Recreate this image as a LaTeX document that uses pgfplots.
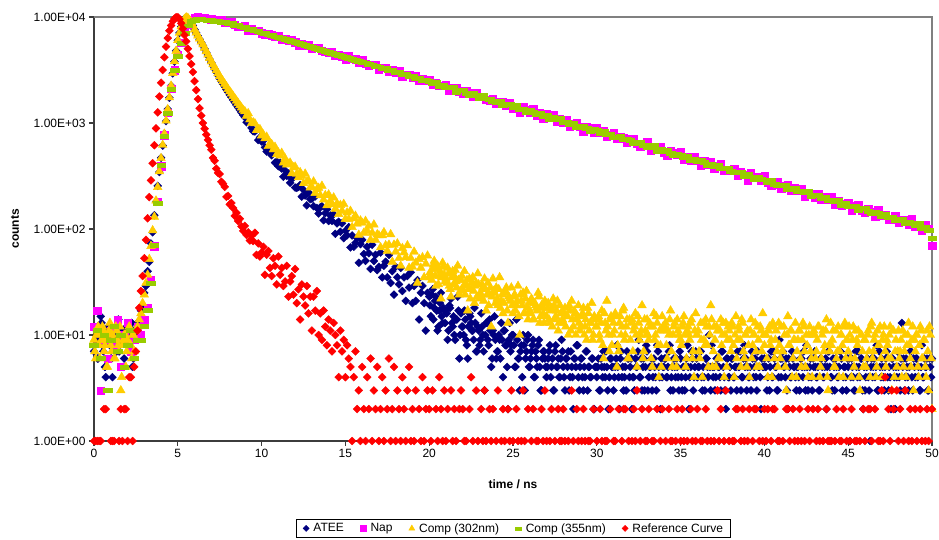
\documentclass[border=0pt]{standalone}
\usepackage{fontspec}
\setmainfont{Liberation Sans}
\usepackage{pgfplots}
\pgfplotsset{compat=1.18}
\definecolor{ateeblue}{RGB}{0,0,128}
\definecolor{napmag}{RGB}{255,0,255}
\definecolor{compgold}{RGB}{255,204,0}
\definecolor{compgreen}{RGB}{153,204,0}
\definecolor{refred}{RGB}{255,0,0}
\definecolor{axisdark}{RGB}{60,60,60}
\definecolor{framegray}{RGB}{128,128,128}
\begin{document}
\begin{tikzpicture}
\useasboundingbox (-94pt,-99pt) rectangle (845pt,441pt);
\begin{axis}[
  at={(0pt,0pt)}, anchor=south west,
  scale only axis, width=838pt, height=424pt,
  ymode=log, xmin=0, xmax=50, ymin=1, ymax=10000,
  clip=false,
  axis x line*=bottom, axis y line*=left,
  axis line style={-, draw=axisdark, line width=1.5pt},
  tick align=outside, major tick length=5pt,
  tick style={draw=axisdark, line width=1.2pt},
  yminorticks=false, xminorticks=false,
  xtick={0,5,...,50}, xticklabels={0,5,10,15,20,25,30,35,40,45,50},
  ytick={1,10,100,1000,10000},
  yticklabels={1.00E+00,1.00E+01,1.00E+02,1.00E+03,1.00E+04},
  ticklabel style={font=\fontsize{12}{14}\selectfont, text=black},
  xlabel={time / ns}, ylabel={counts},
  label style={font=\fontsize{12}{14}\selectfont\bfseries},
  xlabel style={at={(axis description cs:0.5,-0.101)}, anchor=center},
  ylabel style={at={(axis description cs:-0.0943,0.5)}, anchor=center},
  legend columns=5,
  legend style={at={(axis description cs:0.5,-0.184)}, anchor=north,
    draw=black, line width=0.6pt, fill=white,
    font=\fontsize{12}{14}\selectfont, inner xsep=5pt, inner ysep=2pt,
    /tikz/every even column/.append style={column sep=12pt}},
  legend image code/.code={\draw[#1] plot coordinates {(5pt,0pt)}; \path (0pt,0pt) (10pt,0pt);},
]
% plot-area border (top and right)
\draw[framegray, line width=2pt] (axis description cs:0,1) -- (axis description cs:1,1) -- (axis description cs:1,0);

% ATEE
\addplot[only marks, color=ateeblue, mark=square*, mark size=2.8pt, mark options={rotate=45},
  legend image post style={mark size=2.1pt}] coordinates {
(0.0,7) (0.1,9) (0.2,6) (0.3,12) (0.4,15) (0.5,8) (0.6,10) (0.7,4) (0.8,11) (0.9,9)
(1.0,6) (1.1,4) (1.2,10) (1.3,8) (1.4,12) (1.5,7) (1.6,9) (1.7,11) (1.8,6) (1.9,10)
(2.0,8) (2.1,12) (2.2,9) (2.3,5) (2.4,11)
(0.05,8) (0.15,11) (0.25,6) (0.35,9) (0.45,13) (0.55,7) (0.65,5) (0.75,10) (0.85,12) (0.95,8)
(1.05,6) (1.15,9) (1.25,11) (1.35,7) (1.45,14) (1.55,8) (1.65,10) (1.75,5) (1.85,9) (1.95,12)
(2.05,7) (2.15,10) (2.25,13) (2.35,6)
(2.5,10) (2.6,13) (2.7,12) (2.8,17) (2.9,19) (3.0,25) (3.1,29) (3.2,40) (3.3,49) (3.4,73)
(3.5,93) (3.6,135) (3.7,180) (3.8,255) (3.9,344) (4.0,470) (4.1,612) (4.2,798) (4.3,1040) (4.4,1352)
(4.5,1731) (4.6,2250) (4.7,2940) (4.8,3790) (4.9,4800) (5.0,6010) (5.1,7090) (5.2,8110) (5.3,8930) (5.4,9540)
(5.5,9880) (5.6,9760) (5.7,9340) (5.8,8900) (5.9,8320)
(6.0,7590) (6.1,7080) (6.2,6610) (6.3,6170) (6.4,5750) (6.5,5370) (6.6,4990) (6.7,4630) (6.8,4300) (6.9,4000)
(7.0,3715) (7.1,3467) (7.2,3236) (7.3,3020) (7.4,2818) (7.5,2630) (7.6,2477) (7.7,2333) (7.8,2198) (7.9,2070)
(8.0,1950) (8.1,1845) (8.2,1746) (8.3,1652) (8.4,1563) (8.5,1479) (8.6,1400) (8.7,1324) (8.8,1253) (8.9,1186)
(9.0,1135) (9.1,1016) (9.2,1047) (9.3,1025) (9.4,900) (9.5,836) (9.6,832) (9.7,860) (9.8,691) (9.9,732)
(10.0,669) (10.1,679) (10.2,589) (10.3,537) (10.4,579) (10.5,537) (10.6,496) (10.7,522) (10.8,423) (10.9,434)
(11.0,391) (11.1,422) (11.2,372) (11.3,311) (11.4,356) (11.5,317) (11.6,333) (11.7,273) (11.8,297) (11.9,308)
(12.0,246) (12.1,244) (12.2,249) (12.3,260) (12.4,202) (12.5,234) (12.6,207) (12.7,167) (12.8,221) (12.9,191)
(13.0,193) (13.1,164) (13.2,203) (13.3,158) (13.4,140) (13.5,160) (13.6,164) (13.7,121) (13.8,141) (13.9,153)
(14.0,119) (14.1,134) (14.2,119) (14.3,138) (14.4,90) (14.5,113) (14.6,117) (14.7,94) (14.8,113) (14.9,82)
(15.0,96) (15.1,87) (15.2,104) (15.3,67) (15.4,87) (15.5,68) (15.6,74) (15.7,82) (15.8,48) (15.9,72)
(16.0,79) (16.1,58) (16.2,50) (16.3,68) (16.4,59) (16.5,42) (16.6,71) (16.7,50) (16.8,57) (16.9,41)
(17.0,44) (17.1,60) (17.2,35) (17.3,45) (17.4,49) (17.5,35) (17.6,57) (17.7,31) (17.8,40) (17.9,24)
(18.0,44) (18.1,35) (18.2,30) (18.3,43) (18.4,26) (18.5,35) (18.6,21) (18.7,36) (18.8,28) (18.9,39)
(19.0,20) (19.1,29) (19.2,21) (19.3,33) (19.4,14) (19.5,25) (19.6,29) (19.7,20) (19.8,11) (19.9,25)
(20.0,23) (20.1,15) (20.2,27) (20.3,18) (20.4,23) (20.5,11) (20.6,17) (20.7,25) (20.8,13) (20.9,17)
(21.0,17) (21.1,9) (21.2,19) (21.3,22) (21.4,12) (21.5,10) (21.6,14) (21.7,23) (21.8,6) (21.9,16)
(22.0,12) (22.1,17) (22.2,9) (22.3,6) (22.4,16) (22.5,13) (22.6,11) (22.7,18) (22.8,7) (22.9,12)
(23.0,8) (23.1,16) (23.2,10) (23.3,3) (23.4,13) (23.5,9) (23.6,14) (23.7,5) (23.8,11) (23.9,15)
(24.0,6) (24.1,7) (24.2,9) (24.3,13) (24.4,4) (24.5,11) (24.6,8) (24.7,2) (24.8,13) (24.9,8)
(25.0,10) (25.1,5) (25.2,14) (25.3,6) (25.4,3) (25.5,8) (25.6,10) (25.7,3) (25.8,7) (25.9,10)
(26.0,5) (26.1,7) (26.2,9) (26.3,4) (26.4,6) (26.5,8) (26.6,5) (26.7,3) (26.8,7) (26.9,6)
(27.0,4) (27.1,6) (27.2,8) (27.3,5) (27.4,3) (27.5,7) (27.6,5) (27.7,6) (27.8,4) (27.9,9)
(28.0,5) (28.1,3) (28.2,6) (28.3,7) (28.4,4) (28.5,5) (28.6,2) (28.7,6) (28.8,8) (28.9,4)
(29.0,5) (29.1,6) (29.2,3) (29.3,4) (29.4,7) (29.5,5) (29.6,4) (29.7,6) (29.8,2) (29.9,5)
(30.0,4) (30.1,6) (30.2,3) (30.3,5) (30.4,7) (30.5,4) (30.6,5) (30.7,2) (30.8,6) (30.9,5)
(31.0,3) (31.1,5) (31.2,8) (31.3,4) (31.4,6) (31.5,4) (31.6,3) (31.7,5) (31.8,7) (31.9,6)
(32.0,5) (32.1,2) (32.2,4) (32.3,6) (32.4,5) (32.5,9) (32.6,4) (32.7,3) (32.8,6) (32.9,5)
(33.0,7) (33.1,4) (33.2,5) (33.3,3) (33.4,6) (33.5,4) (33.6,8) (33.7,5) (33.8,2) (33.9,4)
(34.0,5) (34.1,6) (34.2,4) (34.3,7) (34.4,3) (34.5,5) (34.6,6) (34.7,4) (34.8,5) (34.9,3)
(35.0,6) (35.1,3) (35.2,5) (35.3,4) (35.4,8) (35.5,2) (35.6,5) (35.7,6) (35.8,4) (35.9,7)
(36.0,4) (36.1,5) (36.2,7) (36.3,3) (36.4,4) (36.5,6) (36.6,5) (36.7,10) (36.8,3) (36.9,5)
(37.0,5) (37.1,4) (37.2,6) (37.3,5) (37.4,3) (37.5,7) (37.6,4) (37.7,2) (37.8,6) (37.9,4)
(38.0,3) (38.1,6) (38.2,4) (38.3,5) (38.4,7) (38.5,5) (38.6,3) (38.7,4) (38.8,8) (38.9,6)
(39.0,5) (39.1,4) (39.2,3) (39.3,6) (39.4,5) (39.5,4) (39.6,7) (39.7,5) (39.8,2) (39.9,5)
(40.0,6) (40.1,5) (40.2,4) (40.3,3) (40.4,7) (40.5,4) (40.6,6) (40.7,5) (40.8,3) (40.9,9)
(41.0,4) (41.1,7) (41.2,5) (41.3,6) (41.4,2) (41.5,5) (41.6,4) (41.7,6) (41.8,5) (41.9,3)
(42.0,5) (42.1,3) (42.2,6) (42.3,4) (42.4,5) (42.5,8) (42.6,3) (42.7,5) (42.8,4) (42.9,6)
(43.0,7) (43.1,4) (43.2,5) (43.3,3) (43.4,6) (43.5,4) (43.6,5) (43.7,2) (43.8,7) (43.9,5)
(44.0,4) (44.1,6) (44.2,3) (44.3,5) (44.4,4) (44.5,7) (44.6,6) (44.7,4) (44.8,5) (44.9,3)
(45.0,5) (45.1,1) (45.2,6) (45.3,4) (45.4,3) (45.5,5) (45.6,7) (45.7,4) (45.8,6) (45.9,2)
(46.0,3) (46.1,5) (46.2,4) (46.3,1) (46.4,6) (46.5,5) (46.6,4) (46.7,8) (46.8,3) (46.9,5)
(47.0,6) (47.1,4) (47.2,5) (47.3,7) (47.4,3) (47.5,4) (47.6,6) (47.7,5) (47.8,2) (47.9,4)
(48.0,5) (48.1,3) (48.2,13) (48.3,6) (48.4,4) (48.5,5) (48.6,3) (48.7,7) (48.8,4) (48.9,6)
(49.0,4) (49.1,6) (49.2,5) (49.3,3) (49.4,8) (49.5,4) (49.6,5) (49.7,6) (49.8,3) (49.9,5)
(50.0,6)
(20.05,19) (20.15,24) (20.25,14) (20.35,21) (20.45,17) (20.55,12) (20.65,20) (20.75,15) (20.85,18) (20.95,13)
(21.05,16) (21.15,11) (21.25,18) (21.35,13) (21.45,15) (21.55,9) (21.65,14) (21.75,17) (21.85,10) (21.95,12)
(22.05,10) (22.15,14) (22.25,8) (22.35,12) (22.45,15) (22.55,11) (22.65,9) (22.75,13) (22.85,7) (22.95,11)
(23.05,9) (23.15,12) (23.25,7) (23.35,10) (23.45,13) (23.55,8) (23.65,11) (23.75,6) (23.85,10) (23.95,9)
(24.05,7) (24.15,10) (24.25,6) (24.35,9) (24.45,11) (24.55,8) (24.65,5) (24.75,9) (24.85,7) (24.95,10)
(25.05,8) (25.15,5) (25.25,9) (25.35,6) (25.45,7) (25.55,4) (25.65,8) (25.75,6) (25.85,9) (25.95,5)
(26.05,6) (26.15,8) (26.25,4) (26.35,7) (26.45,5) (26.55,9) (26.65,3) (26.75,6) (26.85,7) (26.95,5)
(27.05,5) (27.15,7) (27.25,4) (27.35,6) (27.45,3) (27.55,8) (27.65,5) (27.75,4) (27.85,6) (27.95,7)
(28.05,4) (28.15,6) (28.25,5) (28.35,3) (28.45,7) (28.55,4) (28.65,6) (28.75,5) (28.85,8) (28.95,3)
(29.05,6) (29.15,4) (29.25,5) (29.35,7) (29.45,3) (29.55,5) (29.65,4) (29.75,6) (29.85,2) (29.95,5)
(30.05,5) (30.15,3) (30.25,6) (30.35,4) (30.45,5) (30.55,7) (30.65,3) (30.75,4) (30.85,6) (30.95,5)
(31.05,4) (31.15,6) (31.25,5) (31.35,2) (31.45,7) (31.55,5) (31.65,4) (31.75,3) (31.85,6) (31.95,4)
(32.05,6) (32.15,4) (32.25,3) (32.35,5) (32.45,7) (32.55,4) (32.65,6) (32.75,5) (32.85,3) (32.95,8)
(33.05,3) (33.15,5) (33.25,6) (33.35,4) (33.45,5) (33.55,3) (33.65,7) (33.75,4) (33.85,6) (33.95,5)
(34.05,6) (34.15,4) (34.25,5) (34.35,8) (34.45,4) (34.55,3) (34.65,5) (34.75,6) (34.85,4) (34.95,7)
(35.05,4) (35.15,5) (35.25,3) (35.35,6) (35.45,5) (35.55,4) (35.65,7) (35.75,3) (35.85,5) (35.95,6)
(36.05,5) (36.15,7) (36.25,4) (36.35,5) (36.45,3) (36.55,6) (36.65,4) (36.75,5) (36.85,8) (36.95,4)
(37.05,3) (37.15,6) (37.25,5) (37.35,4) (37.45,7) (37.55,5) (37.65,3) (37.75,6) (37.85,4) (37.95,5)
(38.05,6) (38.15,4) (38.25,5) (38.35,3) (38.45,5) (38.55,7) (38.65,4) (38.75,6) (38.85,5) (38.95,3)
(39.05,4) (39.15,5) (39.25,7) (39.35,4) (39.45,6) (39.55,3) (39.65,5) (39.75,4) (39.85,6) (39.95,5)
(40.05,5) (40.15,3) (40.25,6) (40.35,5) (40.45,4) (40.55,7) (40.65,5) (40.75,3) (40.85,4) (40.95,6)
(41.05,6) (41.15,5) (41.25,4) (41.35,3) (41.45,6) (41.55,4) (41.65,7) (41.75,5) (41.85,4) (41.95,5)
(42.05,4) (42.15,6) (42.25,5) (42.35,7) (42.45,3) (42.55,5) (42.65,4) (42.75,6) (42.85,3) (42.95,5)
(43.05,5) (43.15,4) (43.25,3) (43.35,6) (43.45,5) (43.55,4) (43.65,6) (43.75,5) (43.85,7) (43.95,4)
(44.05,3) (44.15,5) (44.25,6) (44.35,4) (44.45,5) (44.55,7) (44.65,3) (44.75,5) (44.85,4) (44.95,6)
(45.05,6) (45.15,4) (45.25,5) (45.35,3) (45.45,7) (45.55,4) (45.65,5) (45.75,6) (45.85,3) (45.95,5)
(46.05,4) (46.15,6) (46.25,3) (46.35,5) (46.45,4) (46.55,6) (46.65,5) (46.75,3) (46.85,7) (46.95,4)
(47.05,5) (47.15,3) (47.25,6) (47.35,4) (47.45,5) (47.55,2) (47.65,6) (47.75,4) (47.85,5) (47.95,7)
(48.05,4) (48.15,6) (48.25,5) (48.35,3) (48.45,6) (48.55,4) (48.65,5) (48.75,7) (48.85,3) (48.95,5)
(49.05,6) (49.15,4) (49.25,3) (49.35,5) (49.45,4) (49.55,6) (49.65,5) (49.75,3) (49.85,6) (49.95,4)
};
\addlegendentry{ATEE}

% Nap
\addplot[only marks, color=napmag, mark=square*, mark size=3.7pt,
  legend image post style={mark size=2.7pt}] coordinates {
(0.0,12) (0.2,17) (0.4,3) (0.6,9) (0.8,6) (1.0,11) (1.2,8) (1.4,14) (1.6,5) (1.8,10) (2.0,13) (2.2,7) (2.4,9) (2.6,12)
(2.8,10) (3.0,14) (3.2,18) (3.4,33) (3.6,69) (3.8,181) (4.0,392) (4.2,768) (4.4,1250) (4.6,2100)
(4.8,3150) (5.0,4380) (5.2,5730) (5.4,7270) (5.6,8480) (5.8,9360) (6.0,9750) (6.2,9980) (6.4,9860) (6.6,9790)
(6.8,9640) (7.0,9570) (7.2,9440) (7.4,9400) (7.6,9290) (7.8,8819) (8.0,8992) (8.2,8920) (8.4,8407) (8.6,8146)
(8.8,8136) (9.0,8268) (9.2,7531) (9.4,7711) (9.6,7420) (9.8,7455)
(10.0,7040) (10.2,6793) (10.4,6964) (10.6,6750) (10.8,6541) (11.0,6633) (11.2,6153) (11.4,6171) (11.6,5944) (11.8,6041)
(12.0,5764) (12.2,5439) (12.4,5599) (12.6,5373) (12.8,5397) (13.0,5065) (13.2,5120) (13.4,5121) (13.6,4779) (13.8,4706)
(14.0,4672) (14.2,4664) (14.4,4342) (14.6,4434) (14.8,4254) (15.0,3930) (15.2,4264) (15.4,4018) (15.6,3992) (15.8,3757)
(16.0,3971) (16.2,3633) (16.4,3469) (16.6,3555) (16.8,3541) (17.0,3223) (17.2,3304) (17.4,3341) (17.6,3080) (17.8,3144)
(18.0,3006) (18.2,3093) (18.4,2757) (18.6,2861) (18.8,2851) (19.0,2676) (19.2,2763) (19.4,2533) (19.6,2586) (19.8,2493)
(20.0,2566) (20.2,2303) (20.4,2395) (20.6,2241) (20.8,2247) (21.0,2266) (21.2,2030) (21.4,2140) (21.6,2143) (21.8,1989)
(22.0,1912) (22.2,1987) (22.4,1905) (22.6,1776) (22.8,1912) (23.0,1765) (23.2,1769) (23.4,1655) (23.6,1645) (23.8,1703)
(24.0,1539) (24.2,1567) (24.4,1566) (24.6,1465) (24.8,1557) (25.0,1362) (25.2,1424) (25.4,1263) (25.6,1418) (25.8,1316)
(26.0,1256) (26.2,1349) (26.4,1185) (26.6,1244) (26.8,1105) (27.0,1209) (27.2,1127) (27.4,1203) (27.6,1025) (27.8,1083)
(28.0,1009) (28.2,1079) (28.4,921) (28.6,985) (28.8,1002) (29.0,920) (29.2,832) (29.4,926) (29.6,898) (29.8,818)
(30.0,894) (30.2,813) (30.4,836) (30.6,740) (30.8,770) (31.0,814) (31.2,712) (31.4,733) (31.6,718) (31.8,650)
(32.0,704) (32.2,713) (32.4,636) (32.6,594) (32.8,625) (33.0,669) (33.2,547) (33.4,600) (33.6,564) (33.8,589)
(34.0,528) (34.2,498) (34.4,548) (34.6,523) (34.8,500) (35.0,533) (35.2,457) (35.4,476) (35.6,447) (35.8,480)
(36.0,442) (36.2,393) (36.4,438) (36.6,408) (36.8,425) (37.0,375) (37.2,398) (37.4,410) (37.6,357) (37.8,355)
(38.0,360) (38.2,370) (38.4,319) (38.6,347) (38.8,324) (39.0,288) (39.2,335) (39.4,309) (39.6,309) (39.8,284)
(40.0,315) (40.2,276) (40.4,259) (40.6,264) (40.8,276) (41.0,239) (41.2,253) (41.4,262) (41.6,231) (41.8,243)
(42.0,229) (42.2,238) (42.4,203) (42.6,220) (42.8,216) (43.0,198) (43.2,216) (43.4,190) (43.6,199) (43.8,190)
(44.0,202) (44.2,171) (44.4,185) (44.6,168) (44.8,172) (45.0,176) (45.2,149) (45.4,165) (45.6,168) (45.8,150)
(46.0,143) (46.2,155) (46.4,146) (46.6,132) (46.8,152) (47.0,135) (47.2,137) (47.4,124) (47.6,124) (47.8,134)
(48.0,115) (48.2,121) (48.4,122) (48.6,111) (48.8,124) (49.0,105) (49.2,110) (49.4,97) (49.6,109) (49.8,101) (50.0,70)
};
\addlegendentry{Nap}

% Comp (302nm)
\addplot[only marks, color=compgold, mark=triangle*, mark size=5pt,
  legend image post style={mark size=3.3pt}] coordinates {
(0.0,9) (0.1,6) (0.2,11) (0.3,8) (0.4,10) (0.5,12) (0.6,7) (0.7,9) (0.8,5) (0.9,11)
(1.0,8) (1.1,10) (1.2,6) (1.3,12) (1.4,9) (1.5,7) (1.6,3) (1.7,8) (1.8,10) (1.9,5)
(2.0,9) (2.1,12) (2.2,8) (2.3,10) (2.4,7)
(0.05,7) (0.15,10) (0.25,12) (0.35,6) (0.45,9) (0.55,11) (0.65,8) (0.75,5) (0.85,10) (0.95,13)
(1.05,7) (1.15,9) (1.25,6) (1.35,11) (1.45,8) (1.55,12) (1.65,4) (1.75,9) (1.85,10) (1.95,7)
(2.05,11) (2.15,8) (2.25,6) (2.35,10)
(2.5,11) (2.6,12) (2.7,14) (2.8,16) (2.9,20) (3.0,24) (3.1,31) (3.2,37) (3.3,52) (3.4,69)
(3.5,97) (3.6,130) (3.7,185) (3.8,248) (3.9,350) (4.0,465) (4.1,620) (4.2,790) (4.3,1050) (4.4,1345)
(4.5,1740) (4.6,2245) (4.7,2955) (4.8,3810) (4.9,4790) (5.0,6030) (5.1,7070) (5.2,8130) (5.3,8920) (5.4,9560)
(5.5,9900) (5.6,9780) (5.7,9350) (5.8,8920) (5.9,8330)
(6.0,7590) (6.1,7110) (6.2,6670) (6.3,6250) (6.4,5860) (6.5,5500) (6.6,5105) (6.7,4745) (6.8,4405) (6.9,4090)
(7.0,3800) (7.1,3565) (7.2,3340) (7.3,3135) (7.4,2940) (7.5,2755) (7.6,2605) (7.7,2465) (7.8,2335) (7.9,2210)
(8.0,2090) (8.1,1985) (8.2,1890) (8.3,1795) (8.4,1705) (8.5,1620) (8.6,1540) (8.7,1465) (8.8,1395) (8.9,1325)
(9.0,1288) (9.1,1168) (9.2,1234) (9.3,1078) (9.4,995) (9.5,1012) (9.6,991) (9.7,854) (9.8,871) (9.9,873)
(10.0,761) (10.1,777) (10.2,714) (10.3,740) (10.4,604) (10.5,638) (10.6,631) (10.7,562) (10.8,594) (10.9,505)
(11.0,525) (11.1,491) (11.2,521) (11.3,423) (11.4,462) (11.5,405) (11.6,411) (11.7,422) (11.8,334) (11.9,380)
(12.0,387) (12.1,332) (12.2,307) (12.3,343) (12.4,317) (12.5,270) (12.6,332) (12.7,279) (12.8,287) (12.9,246)
(13.0,249) (13.1,280) (13.2,218) (13.3,237) (13.4,244) (13.5,207) (13.6,255) (13.7,189) (13.8,208) (13.9,167)
(14.0,211) (14.1,185) (14.2,171) (14.3,198) (14.4,155) (14.5,174) (14.6,138) (14.7,168) (14.8,148) (14.9,172)
(15.0,124) (15.1,143) (15.2,124) (15.3,148) (15.4,104) (15.5,126) (15.6,133) (15.7,112) (15.8,88) (15.9,120)
(16.0,114) (16.1,92) (16.2,119) (16.3,96) (16.4,107) (16.5,79) (16.6,92) (16.7,110) (16.8,79) (16.9,89)
(17.0,87) (17.1,67) (17.2,87) (17.3,93) (17.4,70) (17.5,62) (17.6,71) (17.7,89) (17.8,49) (17.9,71)
(18.0,61) (18.1,73) (18.2,53) (18.3,45) (18.4,66) (18.5,60) (18.6,54) (18.7,70) (18.8,43) (18.9,53)
(19.0,44) (19.1,61) (19.2,48) (19.3,31) (19.4,52) (19.5,43) (19.6,54) (19.7,35) (19.8,47) (19.9,56)
(20.0,35) (20.1,37) (20.2,42) (20.3,50) (20.4,29) (20.5,45) (20.6,36) (20.7,22) (20.8,48) (20.9,37)
(21.0,34) (21.1,43) (21.2,29) (21.3,23) (21.4,40) (21.5,36) (21.6,32) (21.7,45) (21.8,24) (21.9,33)
(22.0,27) (22.1,40) (22.2,30) (22.3,17) (22.4,34) (22.5,27) (22.6,35) (22.7,20) (22.8,31) (22.9,38)
(23.0,22) (23.1,23) (23.2,28) (23.3,34) (23.4,17) (23.5,31) (23.6,24) (23.7,12) (23.8,34) (23.9,25)
(24.0,28) (24.1,19) (24.2,35) (24.3,21) (24.4,16) (24.5,25) (24.6,28) (24.7,13) (24.8,22) (24.9,28)
(25.0,16) (25.1,24) (25.2,19) (25.3,29) (25.4,10) (25.5,21) (25.6,25) (25.7,16) (25.8,26) (25.9,14)
(26.0,17) (26.1,22) (26.2,14) (26.3,20) (26.4,18) (26.5,25) (26.6,13) (26.7,19) (26.8,16) (26.9,21)
(27.0,15) (27.1,20) (27.2,13) (27.3,18) (27.4,22) (27.5,14) (27.6,17) (27.7,11) (27.8,19) (27.9,16)
(28.0,13) (28.1,18) (28.2,15) (28.3,10) (28.4,17) (28.5,21) (28.6,12) (28.7,16) (28.8,14) (28.9,19)
(29.0,11) (29.1,15) (29.2,18) (29.3,12) (29.4,9) (29.5,16) (29.6,13) (29.7,20) (29.8,10) (29.9,14)
(30.0,12) (30.1,15) (30.2,9) (30.3,17) (30.4,6) (30.5,13) (30.6,21) (30.7,10) (30.8,14) (30.9,8)
(31.0,13) (31.1,16) (31.2,5) (31.3,7) (31.4,15) (31.5,12) (31.6,18) (31.7,10) (31.8,14) (31.9,6)
(32.0,9) (32.1,14) (32.2,11) (32.3,16) (32.4,5) (32.5,13) (32.6,10) (32.7,19) (32.8,7) (32.9,11)
(33.0,14) (33.1,9) (33.2,12) (33.3,5) (33.4,16) (33.5,10) (33.6,13) (33.7,4) (33.8,8) (33.9,15)
(34.0,11) (34.1,13) (34.2,6) (34.3,10) (34.4,17) (34.5,5) (34.6,12) (34.7,6) (34.8,14) (34.9,10)
(35.0,9) (35.1,12) (35.2,15) (35.3,5) (35.4,11) (35.5,10) (35.6,13) (35.7,6) (35.8,4) (35.9,16)
(36.0,10) (36.1,7) (36.2,13) (36.3,4) (36.4,9) (36.5,14) (36.6,8) (36.7,12) (36.8,19) (36.9,5)
(37.0,12) (37.1,5) (37.2,11) (37.3,6) (37.4,14) (37.5,10) (37.6,4) (37.7,13) (37.8,9) (37.9,11)
(38.0,7) (38.1,12) (38.2,4) (38.3,15) (38.4,9) (38.5,11) (38.6,5) (38.7,13) (38.8,6) (38.9,10)
(39.0,11) (39.1,4) (39.2,14) (39.3,8) (39.4,10) (39.5,7) (39.6,12) (39.7,5) (39.8,11) (39.9,16)
(40.0,8) (40.1,10) (40.2,4) (40.3,12) (40.4,9) (40.5,13) (40.6,6) (40.7,11) (40.8,5) (40.9,8)
(41.0,12) (41.1,7) (41.2,10) (41.3,3) (41.4,15) (41.5,8) (41.6,11) (41.7,6) (41.8,9) (41.9,4)
(42.0,9) (42.1,11) (42.2,5) (42.3,13) (42.4,7) (42.5,10) (42.6,4) (42.7,12) (42.8,6) (42.9,10)
(43.0,10) (43.1,7) (43.2,12) (43.3,4) (43.4,6) (43.5,11) (43.6,8) (43.7,14) (43.8,3) (43.9,7)
(44.0,8) (44.1,11) (44.2,5) (44.3,6) (44.4,12) (44.5,7) (44.6,10) (44.7,4) (44.8,13) (44.9,9)
(45.0,7) (45.1,10) (45.2,4) (45.3,12) (45.4,6) (45.5,9) (45.6,11) (45.7,3) (45.8,10) (45.9,5)
(46.0,9) (46.1,6) (46.2,11) (46.3,4) (46.4,13) (46.5,7) (46.6,10) (46.7,5) (46.8,8) (46.9,12)
(47.0,4) (47.1,10) (47.2,7) (47.3,9) (47.4,6) (47.5,12) (47.6,3) (47.7,11) (47.8,7) (47.9,5)
(48.0,11) (48.1,7) (48.2,4) (48.3,5) (48.4,10) (48.5,8) (48.6,13) (48.7,6) (48.8,9) (48.9,3)
(49.0,7) (49.1,10) (49.2,4) (49.3,12) (49.4,6) (49.5,9) (49.6,5) (49.7,11) (49.8,3) (49.9,10)
(50.0,2)
(20.05,39) (20.15,33) (20.25,46) (20.35,36) (20.45,42) (20.55,30) (20.65,40) (20.75,35) (20.85,44) (20.95,32)
(21.05,31) (21.15,38) (21.25,27) (21.35,35) (21.45,30) (21.55,41) (21.65,28) (21.75,33) (21.85,26) (21.95,36)
(22.05,29) (22.15,24) (22.25,33) (22.35,27) (22.45,22) (22.55,31) (22.65,26) (22.75,29) (22.85,23) (22.95,30)
(23.05,25) (23.15,30) (23.25,21) (23.35,27) (23.45,24) (23.55,19) (23.65,28) (23.75,23) (23.85,26) (23.95,20)
(24.05,22) (24.15,27) (24.25,18) (24.35,24) (24.45,20) (24.55,26) (24.65,17) (24.75,23) (24.85,21) (24.95,19)
(25.05,23) (25.15,17) (25.25,21) (25.35,15) (25.45,24) (25.55,19) (25.65,16) (25.75,22) (25.85,18) (25.95,20)
(26.05,16) (26.15,21) (26.25,14) (26.35,19) (26.45,17) (26.55,23) (26.65,15) (26.75,18) (26.85,13) (26.95,20)
(27.05,18) (27.15,14) (27.25,17) (27.35,12) (27.45,19) (27.55,15) (27.65,21) (27.75,13) (27.85,16) (27.95,14)
(28.05,16) (28.15,12) (28.25,15) (28.35,19) (28.45,11) (28.55,14) (28.65,17) (28.75,10) (28.85,15) (28.95,13)
(29.05,12) (29.15,16) (29.25,10) (29.35,14) (29.45,18) (29.55,11) (29.65,13) (29.75,9) (29.85,15) (29.95,12)
(30.05,14) (30.15,10) (30.25,13) (30.35,8) (30.45,16) (30.55,11) (30.65,12) (30.75,7) (30.85,15) (30.95,10)
(31.05,11) (31.15,15) (31.25,8) (31.35,13) (31.45,10) (31.55,17) (31.65,9) (31.75,12) (31.85,6) (31.95,14)
(32.05,13) (32.15,7) (32.25,12) (32.35,10) (32.45,15) (32.55,9) (32.65,11) (32.75,6) (32.85,14) (32.95,10)
(33.05,10) (33.15,13) (33.25,6) (33.35,12) (33.45,9) (33.55,15) (33.65,8) (33.75,11) (33.85,5) (33.95,12)
(34.05,12) (34.15,8) (34.25,11) (34.35,14) (34.45,7) (34.55,10) (34.65,13) (34.75,5) (34.85,11) (34.95,9)
(35.05,8) (35.15,13) (35.25,10) (35.35,6) (35.45,12) (35.55,9) (35.65,14) (35.75,7) (35.85,11) (35.95,10)
(36.05,11) (36.15,6) (36.25,9) (36.35,13) (36.45,8) (36.55,12) (36.65,5) (36.75,10) (36.85,14) (36.95,7)
(37.05,9) (37.15,12) (37.25,6) (37.35,11) (37.45,8) (37.55,13) (37.65,10) (37.75,5) (37.85,12) (37.95,9)
(38.05,13) (38.15,8) (38.25,10) (38.35,6) (38.45,12) (38.55,9) (38.65,14) (38.75,7) (38.85,10) (38.95,5)
(39.05,8) (39.15,11) (39.25,6) (39.35,10) (39.45,13) (39.55,5) (39.65,9) (39.75,12) (39.85,7) (39.95,10)
(40.05,10) (40.15,6) (40.25,11) (40.35,8) (40.45,4) (40.55,12) (40.65,9) (40.75,7) (40.85,13) (40.95,6)
(41.05,7) (41.15,12) (41.25,5) (41.35,10) (41.45,8) (41.55,11) (41.65,4) (41.75,9) (41.85,13) (41.95,7)
(42.05,11) (42.15,6) (42.25,9) (42.35,12) (42.45,5) (42.55,8) (42.65,10) (42.75,7) (42.85,4) (42.95,11)
(43.05,6) (43.15,9) (43.25,12) (43.35,5) (43.45,10) (43.55,7) (43.65,11) (43.75,4) (43.85,8) (43.95,13)
(44.05,9) (44.15,5) (44.25,11) (44.35,7) (44.45,4) (44.55,10) (44.65,8) (44.75,12) (44.85,6) (44.95,9)
(45.05,12) (45.15,6) (45.25,9) (45.35,5) (45.45,11) (45.55,8) (45.65,4) (45.75,10) (45.85,7) (45.95,9)
(46.05,5) (46.15,10) (46.25,7) (46.35,12) (46.45,6) (46.55,9) (46.65,4) (46.75,11) (46.85,8) (46.95,6)
(47.05,9) (47.15,12) (47.25,5) (47.35,8) (47.45,10) (47.55,6) (47.65,11) (47.75,4) (47.85,9) (47.95,7)
(48.05,6) (48.15,9) (48.25,11) (48.35,7) (48.45,4) (48.55,10) (48.65,8) (48.75,5) (48.85,12) (48.95,9)
(49.05,10) (49.15,5) (49.25,8) (49.35,11) (49.45,6) (49.55,9) (49.65,4) (49.75,7) (49.85,12) (49.95,6)
};
\addlegendentry{Comp (302nm)}

% Comp (355nm)
\addplot[only marks, color=compgreen, mark=square*, mark size=4.3pt, mark options={yscale=0.45},
  legend image post style={mark size=3.1pt}] coordinates {
(0.0,8) (0.2,11) (0.4,6) (0.6,10) (0.8,3) (1.0,9) (1.2,12) (1.4,7) (1.6,10) (1.8,5) (2.0,8) (2.2,11) (2.4,6) (2.6,9)
(2.8,9) (3.0,12) (3.2,17) (3.4,31) (3.6,70) (3.8,176) (4.0,400) (4.2,750) (4.4,1240) (4.6,2070)
(4.8,3120) (5.0,4300) (5.2,5640) (5.4,7080) (5.6,8280) (5.8,9050) (6.0,9380) (6.2,9480) (6.4,9460) (6.6,9420)
(6.8,9350) (7.0,9280) (7.2,9200) (7.4,9110) (7.6,8950) (7.8,8860)
(8.0,8790) (8.2,8700) (8.4,8440) (8.6,8330) (8.8,8090) (9.0,7990) (9.2,7740) (9.4,7660) (9.6,7420) (9.8,7330)
(10.0,7110) (10.2,7020) (10.4,6810) (10.6,6730) (10.8,6520) (11.0,6450) (11.2,6250) (11.4,6170) (11.6,5990) (11.8,5920)
(12.0,5740) (12.2,5670) (12.4,5500) (12.6,5430) (12.8,5270) (13.0,5200) (13.2,5040) (13.4,4990) (13.6,4830) (13.8,4780)
(14.0,4630) (14.2,4580) (14.4,4430) (14.6,4390) (14.8,4240) (15.0,4210) (15.2,4070) (15.4,4030) (15.6,3900) (15.8,3860)
(16.0,3740) (16.2,3700) (16.4,3580) (16.6,3550) (16.8,3430) (17.0,3400) (17.2,3280) (17.4,3260) (17.6,3150) (17.8,3120)
(18.0,3010) (18.2,2990) (18.4,2880) (18.6,2870) (18.8,2760) (19.0,2750) (19.2,2640) (19.4,2640) (19.6,2530) (19.8,2530)
(20.0,2472) (20.2,2390) (20.4,2440) (20.6,2221) (20.8,2286) (21.0,2156) (21.2,2153) (21.4,2161) (21.6,1965) (21.8,2044)
(22.0,2041) (22.2,1911) (22.4,1842) (22.6,1896) (22.8,1823) (23.0,1714) (23.2,1816) (23.4,1693) (23.6,1690) (23.8,1593)
(24.0,1580) (24.2,1621) (24.4,1483) (24.6,1500) (24.8,1494) (25.0,1409) (25.2,1477) (25.4,1339) (25.6,1354) (25.8,1263)
(26.0,1323) (26.2,1261) (26.4,1219) (26.6,1250) (26.8,1158) (27.0,1174) (27.2,1096) (27.4,1134) (27.6,1082) (27.8,1107)
(28.0,1011) (28.2,1028) (28.4,981) (28.6,1004) (28.8,918) (29.0,939) (29.2,937) (29.4,888) (29.6,837) (29.8,872)
(30.0,849) (30.2,803) (30.4,830) (30.6,783) (30.8,785) (31.0,731) (31.2,738) (31.4,751) (31.6,695) (31.8,697)
(32.0,682) (32.2,643) (32.4,662) (32.6,659) (32.8,616) (33.0,594) (33.2,596) (33.4,612) (33.6,547) (33.8,566)
(34.0,544) (34.2,550) (34.4,515) (34.6,495) (34.8,513) (35.0,496) (35.2,480) (35.4,491) (35.6,449) (35.8,453)
(36.0,435) (36.2,446) (36.4,423) (36.6,395) (36.8,412) (37.0,394) (37.2,398) (37.4,370) (37.6,377) (37.8,379)
(38.0,349) (38.2,345) (38.4,343) (38.6,344) (38.8,316) (39.0,326) (39.2,311) (39.4,292) (39.6,311) (39.8,295)
(40.0,292) (40.2,277) (40.4,289) (40.6,267) (40.8,256) (41.0,260) (41.2,259) (41.4,239) (41.6,242) (41.8,244)
(42.0,227) (42.2,230) (42.4,220) (42.6,226) (42.8,204) (43.0,209) (43.2,208) (43.4,197) (43.6,201) (43.8,186)
(44.0,189) (44.2,183) (44.4,186) (44.6,169) (44.8,175) (45.0,165) (45.2,165) (45.4,165) (45.6,150) (45.8,156)
(46.0,156) (46.2,146) (46.4,141) (46.6,145) (46.8,140) (47.0,131) (47.2,139) (47.4,129) (47.6,129) (47.8,122)
(48.0,121) (48.2,124) (48.4,113) (48.6,115) (48.8,114) (49.0,108) (49.2,114) (49.4,102) (49.6,104) (49.8,97) (50.0,82)
};
\addlegendentry{Comp (355nm)}

% Reference Curve (channels with zero counts are not listed)
\addplot[only marks, color=refred, mark=square*, mark size=2.8pt, mark options={rotate=45},
  legend image post style={mark size=2.1pt}] coordinates {
(0.0,1) (0.1,1) (0.2,1) (0.3,1) (0.4,1) (0.6,2) (0.7,2) (1.0,1) (1.1,1) (1.2,1)
(1.5,1) (1.6,2) (1.7,1) (1.8,2) (1.9,2) (2.0,1) (2.1,4) (2.2,4) (2.3,1)
(2.4,5) (2.5,7) (2.6,11) (2.7,18) (2.8,26) (2.9,36) (3.0,53) (3.1,79) (3.2,126) (3.3,200)
(3.4,288) (3.5,417) (3.6,617) (3.7,891) (3.8,1259) (3.9,1778) (4.0,2399) (4.1,3162) (4.2,4169) (4.3,5248)
(4.4,6310) (4.5,7413) (4.6,8318) (4.7,9120) (4.8,9660) (4.9,9930) (5.0,9950) (5.1,9550) (5.2,8710) (5.3,7760)
(5.4,6760) (5.5,5890) (5.6,5010) (5.7,4270) (5.8,3590) (5.9,3020) (6.0,2480) (6.1,2040) (6.2,1680) (6.3,1380)
(6.4,1175) (6.5,1000) (6.6,881) (6.7,776) (6.8,692) (6.9,617)
(7.0,560) (7.1,468) (7.2,441) (7.3,371) (7.4,339) (7.5,330) (7.6,279) (7.7,268) (7.8,250) (7.9,201)
(8.0,205) (8.1,171) (8.2,176) (8.3,158) (8.4,133) (8.5,142) (8.6,119) (8.7,125) (8.8,106) (8.9,96)
(9.0,107) (9.1,88) (9.2,93) (9.3,78) (9.4,86) (9.5,77) (9.6,92) (9.7,57) (9.8,73) (9.9,55)
(10.0,60) (10.1,68) (10.2,37) (10.3,57) (10.4,62) (10.5,43) (10.6,36) (10.7,53) (10.8,45) (10.9,30)
(11.0,55) (11.1,37) (11.2,43) (11.3,29) (11.4,32) (11.5,45) (11.6,23) (11.7,32) (11.8,36) (11.9,24)
(12.0,42) (12.1,20) (12.2,27) (12.3,14) (12.4,30) (12.5,23) (12.6,19) (12.7,29) (12.8,16) (12.9,23)
(13.0,11) (13.1,23) (13.2,17) (13.3,26) (13.4,10)
(13.5,16) (13.6,9) (13.7,17) (13.8,12) (13.9,8) (14.0,14) (14.1,11) (14.2,7) (14.3,13) (14.4,10)
(14.5,8) (14.6,4) (14.7,11) (14.8,7) (14.9,9) (15.0,4) (15.1,8) (15.2,6) (15.3,5) (15.4,1)
(15.5,4) (15.6,7) (15.7,2) (15.8,3) (15.9,1) (16.0,5) (16.1,2) (16.2,1) (16.3,4) (16.4,2)
(16.5,6) (16.6,1) (16.7,3) (16.8,2) (16.9,5) (17.0,1) (17.1,2) (17.2,4) (17.3,1) (17.4,3)
(17.5,2) (17.6,6) (17.7,1) (17.8,2) (17.9,5) (18.0,1) (18.1,3) (18.2,2) (18.3,1) (18.4,4)
(18.5,2) (18.6,1) (18.7,3) (18.8,5) (18.9,1) (19.0,2) (19.1,1) (19.2,3) (19.4,2) (19.5,1)
(19.6,4) (19.7,1) (19.8,2) (19.9,3)
(20.0,2) (20.1,1) (20.2,3) (20.4,2) (20.5,1) (20.6,4) (20.7,2) (20.8,1) (20.9,3)
(21.0,1) (21.1,2) (21.3,3) (21.4,1) (21.5,2) (21.6,1) (21.8,2) (21.9,3)
(22.0,2) (22.1,1) (22.2,1) (22.4,2) (22.5,4) (22.6,1) (22.8,3) (22.9,1)
(23.1,2) (23.2,1) (23.3,3) (23.4,1) (23.6,2) (23.7,1) (23.8,2)
(24.0,1) (24.1,3) (24.3,1) (24.4,2) (24.5,1) (24.7,2) (24.8,1) (24.9,3)
(25.0,1) (25.2,2) (25.3,1) (25.5,1) (25.6,3) (25.7,1) (25.9,2)
(26.1,1) (26.2,2) (26.4,1) (26.5,1) (26.7,2) (26.8,1) (26.9,3)
(27.0,1) (27.2,1) (27.3,2) (27.5,1) (27.7,2) (27.8,1) (27.9,1)
(28.0,2) (28.1,1) (28.3,1) (28.5,3) (28.6,1) (28.8,2) (28.9,1)
(29.1,1) (29.2,2) (29.3,1) (29.5,1) (29.6,1) (29.8,2)
(30.0,1) (30.2,2) (30.3,1) (30.5,1) (30.6,1) (30.8,2)
(31.0,1) (31.1,1) (31.3,2) (31.5,1) (31.6,2) (31.7,2) (31.9,1)
(32.1,1) (32.2,2) (32.3,1) (32.4,3) (32.6,1) (32.7,2) (32.9,1)
(33.0,1) (33.1,2) (33.3,1) (33.4,1) (33.6,2) (33.8,1) (33.9,2)
(34.1,1) (34.3,2) (34.4,1) (34.5,1) (34.7,1) (34.8,2)
(35.0,1) (35.1,2) (35.2,1) (35.4,1) (35.6,2) (35.7,1) (35.9,1)
(36.0,2) (36.2,1) (36.3,1) (36.5,2) (36.6,1) (36.8,1)
(37.0,1) (37.2,3) (37.3,1) (37.4,2) (37.6,1) (37.7,3) (37.9,1)
(38.1,1) (38.2,1) (38.3,2) (38.4,2) (38.6,1) (38.7,2) (38.8,1)
(39.0,1) (39.1,2) (39.3,1) (39.4,2) (39.5,2) (39.7,1) (39.9,1)
(40.0,2) (40.1,1) (40.2,2) (40.4,1) (40.5,2) (40.6,2) (40.8,1) (40.9,1)
(41.1,1) (41.3,2) (41.4,2) (41.5,1) (41.7,2) (41.8,1)
(42.0,1) (42.1,2) (42.2,1) (42.4,1) (42.6,2) (42.7,1) (42.9,2)
(43.1,1) (43.2,2) (43.3,1) (43.5,1) (43.7,2) (43.8,1) (43.9,1)
(44.0,1) (44.2,1) (44.3,2) (44.5,1) (44.6,1) (44.7,2) (44.9,1)
(45.1,1) (45.2,2) (45.4,1) (45.5,1) (45.7,1) (45.9,2)
(46.0,1) (46.2,2) (46.3,2) (46.4,1) (46.6,2) (46.8,1) (46.9,1)
(47.0,3) (47.1,1) (47.2,4) (47.4,2) (47.5,1) (47.6,3) (47.7,2) (47.9,3)
(48.0,1) (48.1,2) (48.3,1) (48.4,3) (48.6,1) (48.7,2) (48.8,1)
(49.0,2) (49.1,1) (49.3,2) (49.4,1) (49.6,1) (49.7,2) (49.8,1)
(50.0,2)
};
\addlegendentry{Reference Curve}
\end{axis}
\end{tikzpicture}
\end{document}
